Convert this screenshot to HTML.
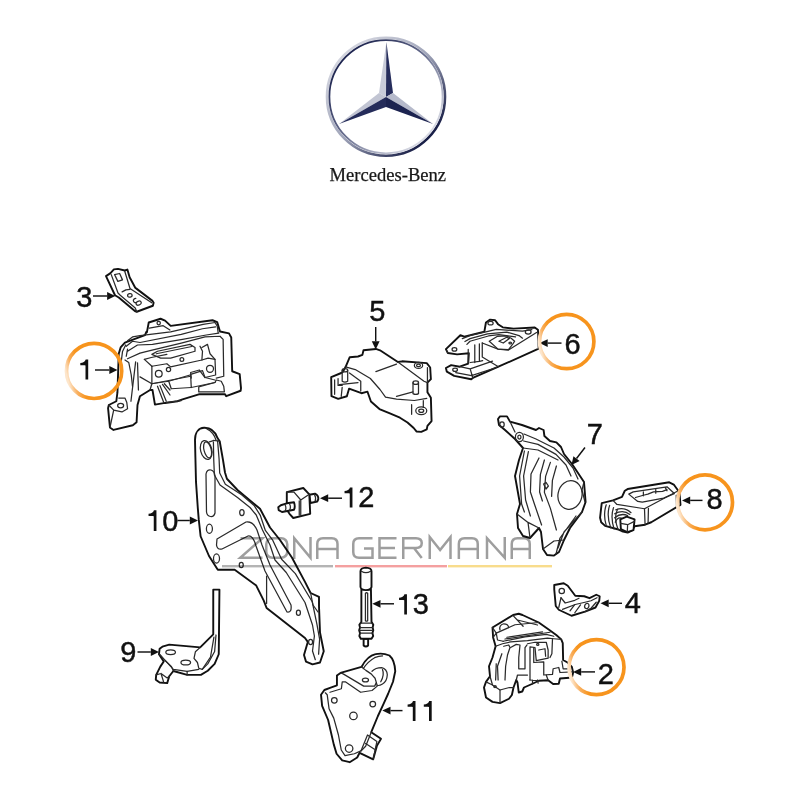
<!DOCTYPE html>
<html><head><meta charset="utf-8">
<style>
html,body{margin:0;padding:0;background:#fff;width:800px;height:800px;overflow:hidden}
svg{display:block}
.p path,.p circle,.p ellipse,.p line,.p polyline,.p polygon,.p rect{vector-effect:non-scaling-stroke}
.p{fill:none;stroke:#2a2a2a;stroke-width:1.25;stroke-linejoin:round;stroke-linecap:round}
.p .o{fill:#fff;stroke:#111;stroke-width:1.9}
.t{font-family:"Liberation Sans",sans-serif;font-size:29px;fill:#111;stroke:#111;stroke-width:0.45}
.ar{stroke:#111;stroke-width:1.1}
.ah{fill:#111}
.oc{fill:none;stroke:url(#og);stroke-width:3.7}
</style></head>
<body>
<svg width="800" height="800" viewBox="0 0 800 800">
<defs>
<linearGradient id="ring" x1="0" y1="0" x2="1" y2="1">
<stop offset="0" stop-color="#c9ccd6"/><stop offset="0.45" stop-color="#8a90a8"/><stop offset="1" stop-color="#1e2550"/>
</linearGradient>
<linearGradient id="og" x1="0" y1="0.56" x2="0.24" y2="0.5">
<stop offset="0" stop-color="#fde6cc"/><stop offset="0.45" stop-color="#f9b060"/><stop offset="1" stop-color="#f7941d"/>
</linearGradient>
<filter id="gray" x="0" y="0" width="1" height="1"><feColorMatrix type="saturate" values="0"/></filter>
</defs>
<!-- LOGO -->
<g id="logo">
<defs>
<linearGradient id="rgA" x1="0.15" y1="0.15" x2="0.85" y2="0.85"><stop offset="0" stop-color="#d2d4de"/><stop offset="0.5" stop-color="#9ea3b8"/><stop offset="1" stop-color="#1a2048"/></linearGradient>
<linearGradient id="rgB" x1="0.15" y1="0.15" x2="0.85" y2="0.85"><stop offset="0" stop-color="#1e2550"/><stop offset="0.5" stop-color="#6a7090"/><stop offset="1" stop-color="#d8dae4"/></linearGradient>
<linearGradient id="lf" x1="0" y1="0" x2="1" y2="1"><stop offset="0" stop-color="#f2f3f7"/><stop offset="1" stop-color="#a9adc0"/></linearGradient>
<linearGradient id="df" x1="0" y1="0" x2="1" y2="1"><stop offset="0" stop-color="#3a4170"/><stop offset="1" stop-color="#161c44"/></linearGradient>
</defs>
<circle cx="386" cy="96.7" r="59" fill="none" stroke="url(#rgA)" stroke-width="2.6"/>
<circle cx="386" cy="96.7" r="56.6" fill="none" stroke="url(#rgB)" stroke-width="1.8"/>
<polygon points="386.4,42 379,93 386,97" fill="#c9ccd9"/>
<polygon points="386.4,42 393,93 386,97" fill="#262d5c"/>
<polygon points="339,124 379,93 386,97" fill="#c2c5d3"/>
<polygon points="339,124 386,107 386,97" fill="#252c5a"/>
<polygon points="433,124 393,93 386,97" fill="#b6bacb"/>
<polygon points="433,124 386,107 386,97" fill="#1c2350"/>
<text x="329.6" y="181.3" font-family="Liberation Serif" font-size="19" fill="#161822" stroke="#161822" stroke-width="0.25" textLength="116.5" lengthAdjust="spacingAndGlyphs" filter="url(#gray)">Mercedes-Benz</text>
</g>

<!-- WATERMARK -->

<!-- PARTS -->
<g id="parts">
<!-- PART 1 (B coords) -->
<g class="p" transform="translate(100,300) scale(0.1875)">
<path class="o" d="M247,170 L240,187 L133,227 L110,253 L100,287 L93,493 L87,540 L47,560 L43,577 L53,680 L72,693 L175,668 L195,652 L200,560 L213,513 L267,480 L280,480 L293,558 L347,549 L413,540 L440,530 L527,503 L667,503 L673,513 L750,484 L752,470 L745,395 L705,380 L700,200 L688,178 L640,168 L625,118 L600,108 L377,138 L347,110 L323,100 L260,120 L250,173 Z"/>
<path d="M100,523 L133,523 L143,547 L147,580 L117,597 L73,587 L47,560"/>
<path d="M73,587 L53,680"/>
<ellipse cx="110" cy="563" rx="16" ry="12"/>
<path d="M263,150 L337,137 L373,160"/>
<circle cx="313" cy="123" r="9"/>
<path d="M137,240 L120,275 L113,330"/>
<path d="M147,262 L140,300"/>
<path d="M190,330 L165,540"/>
<path d="M200,335 L205,480"/>
</g>
<g class="p" transform="translate(140,310) scale(0.125)">
<path d="M-100,245 L-60,215 L0,205 L245,175 L505,115 L600,100 L618,130 L625,180"/>
<path d="M-110,290 L-60,250 L0,260 L330,195 L500,150 L605,135"/>
<path d="M-100,330 L-20,280 L100,275 L340,235 L530,200 L630,185"/>
<path d="M-100,390 L0,345 L80,325 L330,265 L520,215 L640,210 L665,235 L670,530 L610,545"/>
<path d="M-120,400 L-90,420 L-70,520 L-60,610"/>
<path d="M95,450 L215,430 L245,455 L495,400 L545,385 L600,395"/>
<path d="M95,450 L95,590 L405,530"/>
<path d="M35,395 L95,450"/>
<path d="M35,395 L90,380 L215,355"/>
<path d="M95,355 L140,330 L400,275 L440,300 L440,330 L245,385 L165,385 Z"/>
<path d="M130,350 L415,292"/>
<circle cx="150" cy="510" r="27"/>
<circle cx="228" cy="475" r="17"/>
<circle cx="335" cy="395" r="15"/>
<circle cx="560" cy="470" r="28"/>
<path d="M495,300 L540,275 L560,350 L600,395 L605,520 L520,540 L475,480 L405,500 L410,545"/>
<path d="M480,290 L500,330 L495,400"/>




<path d="M470,615 L600,580 L610,560 L650,570 L670,610 L675,655 L470,655 Z"/>
<path d="M405,515 L500,485 L520,540 L600,560 M405,515 L410,620 L600,580"/>
<path d="M90,590 L230,570 L400,520 M230,570 L250,630 L410,620"/>
<path d="M140,610 L190,740 M160,605 L210,730 M180,595 L240,680 M195,590 L240,640"/>
<path d="M0,535 L95,590 L80,640 M210,740 L330,725"/>
</g>

<g class="p" transform="translate(100,260) scale(0.075)">
<path class="o" d="M80,215 L140,175 L185,125 L240,118 L330,140 L365,128 L395,230 L470,370 L490,385 L700,545 L715,570 L705,610 L490,690 L465,680 L250,500 L200,470 Z"/>
<path d="M195,195 L262,180 L300,265 L238,285 Z"/>
<path d="M150,195 L240,440 L270,470 L470,640 L490,690"/>
<path d="M330,150 L400,380 L430,400 L690,570"/>
<path d="M295,425 L345,398 L400,392"/>
<ellipse cx="398" cy="472" rx="30" ry="24" transform="rotate(-15 398 472)"/>
<path d="M478,512 C430,515 435,575 485,568"/>
<ellipse cx="515" cy="575" rx="36" ry="26" transform="rotate(-20 515 575)"/>
</g>

<g class="p" transform="translate(325,340) scale(0.1375)">
<path class="o" d="M280,75 L370,65 L400,75 L530,160 L560,155 L740,168 L765,200 L770,285 L745,310 L745,380 L770,420 L775,590 L745,625 L740,650 L700,668 L665,665 L645,640 L600,600 L545,565 L472,534 L396,502 L334,447 L309,376 L265,387 L175,354 L159,409 L96,428 L47,409 L45,270 L118,240 L130,232 L150,195 L180,125 L240,120 L272,108 Z"/>
<path d="M150,195 L220,215 L330,280 L400,360 L440,415 L520,430 L650,440 L740,425"/>
<path d="M530,160 L720,300 L745,310"/>
<path d="M370,230 L520,175"/>
<path d="M640,310 L640,390 Q660,402 680,390 L680,310"/>
<ellipse cx="660" cy="310" rx="20" ry="12"/>
<path d="M520,410 L640,378"/>
<ellipse cx="680" cy="185" rx="30" ry="22"/>
<ellipse cx="680" cy="185" rx="14" ry="9"/>
<ellipse cx="700" cy="515" rx="40" ry="28"/>
<ellipse cx="700" cy="515" rx="18" ry="12"/>
<path d="M715,440 L715,490 M630,470 L630,540 M745,200 L745,300"/>
<path d="M125,220 L125,300 Q145,312 165,300 L165,220"/>
<ellipse cx="145" cy="220" rx="20" ry="12"/>
<path d="M70,290 L70,395 M95,280 L95,330 L125,330 M105,325 L240,310 M125,345 L118,410 M178,240 L260,300 L260,371"/>
</g>

<g class="p" transform="translate(440,310) scale(0.13125)">
<path class="o" d="M45,298 L155,192 L185,203 L338,165 L350,95 L382,73 L420,78 L442,108 L478,132 L560,142 L722,133 L746,150 L748,180 L752,295 L445,432 L250,518 L238,528 L108,502 L52,470 L45,442 L85,420 L150,432 L215,408 L220,330 L130,338 L60,328 Z"/>
<path d="M60,328 L50,310"/>








<path d="M215,300 L215,408 M265,265 L265,400 M300,258 L300,392"/>
<path d="M230,400 L300,392 L325,385"/>
<path d="M150,432 L230,448 L400,390 M230,448 L250,518 M120,478 L240,500 L430,438"/>
<ellipse cx="110" cy="300" rx="18" ry="13"/>
<ellipse cx="115" cy="455" rx="18" ry="13"/>
<ellipse cx="385" cy="100" rx="20" ry="14"/>

<path d="M170,218 L228.6,194.8 L342,168 L428.6,148 L628.6,161.4 L700,150"/>
<path d="M190,240 L228.6,218 L362,181.4 L508.6,168 L602,194.8 L628.6,214.8"/>
<path d="M205,262 L228.6,238 L368.6,198 L448.6,188 L575.3,204.8"/>
<path d="M375.3,238 L435.3,201.4 L508.6,198 L542,214.8 L568.6,238 L555.3,258 L522,301.4 L442,298 Z"/>
<path d="M448.6,238 L508.6,208 L528.6,218 L482,251.4 Z"/>
<ellipse cx="535" cy="251" rx="10" ry="7"/>
<ellipse cx="672" cy="168" rx="22" ry="16"/>
<path d="M322,251.4 L442,298 L522,304.8 L735.3,171.4"/>
<path d="M322,251.4 L322,358 L445,432"/>
</g>

<g class="p" transform="translate(470,400) scale(0.2)">
<path class="o" d="M140,95 L150,82 L185,82 L200,108 L260,125 L330,150 L345,140 L368,150 L372,180 L400,205 L432,212 L455,235 L470,270 L510,320 L570,410 L578,510 L560,560 L500,640 L470,700 L445,760 L420,778 L385,775 L365,745 L355,660 L345,640 L300,690 L265,680 L240,640 L235,570 L250,520 L225,380 L245,300 L265,240 L225,195 L175,150 L145,125 Z"/>
<ellipse cx="160" cy="122" rx="11" ry="13"/>
<ellipse cx="247" cy="185" rx="20" ry="23"/>
<ellipse cx="247" cy="185" rx="8" ry="10"/>
<path d="M200,108 L220,150 L225,160"/>
<path d="M270,170 L330,195 L420,240 L470,285 L515,340 L540,395"/>
<path d="M268,205 L340,222 L430,272 L480,325 L505,380"/>
<path d="M265,240 L340,250 L440,300"/>
<path d="M272,255 L248,380 L258,520 L272,560"/>
<path d="M292,258 L268,380 L278,500 L302,580"/>
<path d="M345,290 L305,370 L302,460 L322,520 L358,625"/>
<path d="M372,300 L352,372 L348,460 L362,505"/>
<path d="M402,312 L378,382 L372,462 L402,542 L432,650"/>
<path d="M432,330 L412,402 L408,482"/>
<path d="M368,420 L380,412 L392,430 L380,445 Z"/>
<ellipse cx="500" cy="475" rx="60" ry="72" transform="rotate(12 500 475)"/>
<path d="M235,570 L290,612 L345,640 M290,612 L300,690"/>
<path d="M560,560 L470,660 L440,740 M530,580 L450,690 L430,770"/>
<path d="M365,745 L420,705 L470,700"/>
<path d="M570,410 L560,450 L575,510"/>
</g>

<g class="p" transform="translate(595,475) scale(0.1125)">
<path class="o" d="M60,250 L160,225 L240,195 L265,140 L290,125 L660,65 L700,85 L740,140 L752,170 L760,265 L500,420 L445,442 L352,455 L330,492 L290,512 L240,500 L200,482 L90,452 L55,420 L45,380 L55,290 Z"/>
<path d="M300,170 L340,150 L640,105 L705,165 L610,205 L420,242 L380,235 Z"/>
<path d="M360,200 L430,180 L470,170 L520,150 L600,145 L640,130"/>
<path d="M430,150 L430,185 M540,128 L540,162 M625,112 L640,140"/>
<path d="M160,225 L195,262 L440,300 L740,140"/>
<path d="M440,300 L445,442 M475,296 L472,425"/>
<path d="M722,180 L725,285"/>
<path d="M100,265 Q70,350 100,450"/>
<path d="M130,270 Q100,360 140,470"/>
<path d="M165,290 Q135,370 170,480"/>
<path d="M200,305 Q165,380 205,485"/>
<path d="M185,310 Q260,280 320,335"/>
<path d="M175,345 Q250,305 310,350"/>
<path d="M175,380 Q230,335 290,360"/>
<path d="M180,420 Q200,370 240,385"/>
<path class="o" d="M225,395 L282,370 L352,395 L342,490 L287,507 L230,482 Z"/>
<path d="M228,430 L290,442 L350,412 M290,442 L287,507"/>
</g>

<g class="p">
<path class="o" d="M195.4,457.5 L195,440 C195,432 199,428 204,427.8 C210,427.6 215,431 217.5,438 L219.7,441.25 L223,460 L225,472.5 L226.9,478.75 L237.5,490 L260,508.75 L270,527.5 L280,540 L291.9,557.5 L305,581.9 L310.6,593 L319,596.9 L319,606.25 L320,632.5 L323.75,651.25 L320,662.5 L312.5,664.4 L306,661.6 L304,655 L307.8,641.9 L305,638 L266.6,608 L263.75,600.6 L256.25,585.6 L234.7,569.7 L217.8,569.7 L209,556 L200.6,536.25 L198.75,519.4 L197.8,508 L196,481.9 Z"/>
<path d="M213.4,442 L213.75,460 L214.4,475 L220,485 L237.5,497.5 L250,507.5 L256.25,515 L262.5,530 L270,545 L275,560 L286.25,572.5 L305,602.5 L312.5,625 L314.4,636 L312.5,651 L315.3,659.7"/>
<path d="M217.60,440.95 L219.10,459.20 L219.70,472.95 L225.35,484.20 L241.60,494.80 L254.10,505.45 L260.35,515.45 L265.35,530.45 L272.85,540.45 L281.60,559.20 L295.35,573.60 L312.20,601.70 L316.90,624.20 L319.60,639.20 L318.60,654.20"/>
<path d="M213.4,440.3 L219.7,441.25"/>
<ellipse cx="206.2" cy="450" rx="5.6" ry="9.6" transform="rotate(-14 206.2 450)"/>
<ellipse cx="207.6" cy="449.8" rx="3.6" ry="8.2" transform="rotate(-14 207.6 449.8)"/>
<path d="M206.9,428.9 Q213.5,432 216.2,440.5"/>
<path d="M209.4,441.9 L213.4,440.6"/>
<path d="M206,474 Q207,469 211,470 Q214.5,471 215,476 L215,513 Q214,517 210.5,516.5 Q207,516 206.5,512 Z"/>
<ellipse cx="241.9" cy="512.5" rx="2.2" ry="3"/>
<ellipse cx="209.4" cy="528.75" rx="3" ry="4.6"/>
<ellipse cx="216.5" cy="558.5" rx="3" ry="4.6"/>
<path d="M217,539 L246,522 Q253,521 257,530 L262,545 L270,565 L291,605 Q292,613 287,612 L265,571 L256,546 Q253,535 248,536 L222,549 Q217,550 216.5,545 Z"/>
<ellipse cx="241.25" cy="565" rx="2" ry="2.6"/>

<path d="M266.6,576 L266.6,603.4"/>
<path d="M310.6,593 L313,605 L318,612"/>
<ellipse cx="298.4" cy="612.8" rx="2" ry="2.6"/>
<ellipse cx="310.6" cy="641.9" rx="2" ry="2.6"/>
</g>

<g class="p" transform="translate(270,470) scale(0.15)">
<path class="o" d="M262,165 L300,158 Q325,170 322,195 L315,210 L270,220 Z"/>
<path d="M295,160 Q310,185 300,212"/>
<path class="o" d="M112,148 L222,120 L262,162 L268,292 L155,320 L130,292 L112,265 Z"/>
<path d="M112,148 L160,148 L205,200 L262,162 M205,200 L205,305"/>
<path d="M195,205 L195,300"/>
<path class="o" d="M112,222 L160,215 Q170,245 160,265 L80,280 L58,268 L55,248 L72,235 Z"/>
<path d="M100,232 Q112,252 100,275 M130,225 Q142,247 130,270"/>
</g>

<g class="p" transform="translate(150,580) scale(0.1375)">
<path class="o" d="M460,70 L505,70 L500,540 L470,610 L420,660 L370,690 L270,690 L170,662 L140,700 L125,750 L70,745 L42,725 L45,690 L75,630 L100,592 L65,540 L70,500 L90,485 L140,470 L365,490 L460,395 Z"/>
<path d="M365,490 L330,522 L320,570 L345,600 L355,642 L380,650 L440,560 L465,415"/>
<path d="M480,400 L470,520 L420,610 L380,650"/>
<path d="M70,540 L110,585 L170,650 L270,665 L355,650"/>
<path d="M110,585 L155,628 L170,662"/>
<path d="M45,690 L80,680 L125,712 L140,700 M80,680 L100,745"/>
<path d="M270,665 L270,690"/>
<ellipse cx="150" cy="525" rx="35" ry="17"/>
<ellipse cx="260" cy="600" rx="35" ry="18"/>
</g>

<g class="p" transform="translate(340,560) scale(0.1125)">
<path class="o" d="M210,700 L210,760 Q230,780 250,760 L250,700 Z"/>
<path class="o" d="M190,262 L190,550 L172,575 L178,600 L170,625 L178,650 L172,675 L185,700 L280,700 L295,675 L288,650 L296,625 L290,600 L296,575 L280,550 L275,262 Z"/>
<path d="M180,600 L290,600 M175,625 L292,625 M178,650 L290,650 M185,560 L285,560"/>
<path d="M226,295 L226,540 Q236,548 246,540 L246,295 Q236,287 226,295 Z"/>
<path class="o" d="M182,100 Q182,70 230,68 Q280,70 280,100 L280,240 Q275,265 230,268 Q185,265 182,240 Z"/>
<path d="M190,100 Q230,125 272,100"/>
</g>

<g class="p" transform="translate(300,630) scale(0.1875)">
<path class="o" d="M197,243 L216,229 L328,197 C345,165 375,135 403,129 Q440,120 477,136 Q505,160 508,220 L496,276 L470,340 L445,395 L415,460 L380,545 L432,580 L410,618 L390,690 L318,655 L305,680 L265,705 L225,695 L195,660 L180,610 L150,480 L118,405 L112,345 L130,320 L160,309 L197,295 Z"/>
<path d="M135,335 L145,345 L155,420 L180,470 L205,560 L220,640 L240,670 L290,660 L325,645 L350,620 L380,545"/>





<path d="M325,645 L360,560 L410,595 L390,690 M350,605 L395,635"/>

<ellipse cx="183" cy="375" rx="15" ry="15"/>
<ellipse cx="388" cy="395" rx="15" ry="15"/>
<ellipse cx="285" cy="458" rx="20" ry="20"/>
<ellipse cx="262" cy="632" rx="20" ry="20"/>
</g>
<g class="p" transform="translate(330,645) scale(0.0875)">
<path d="M380,270 Q430,190 510,145 Q560,125 600,125"/>
<path d="M480,300 Q520,258 590,258 Q650,270 655,340 Q650,420 600,445 Q560,470 540,460"/>
<path d="M600,280 Q625,340 580,420"/>
<path d="M120,320 L150,330 L385,470 L510,470 L530,430 L515,380 L470,330 L410,290 L360,250"/>
<ellipse cx="405" cy="400" rx="35" ry="22"/>
<path d="M0,540 L130,500 L140,420 L175,420 L350,540 L480,520 L540,470 L530,430"/>
</g>
<g class="p" transform="translate(540,570) scale(0.15)">
<path class="o" d="M95,100 L158,88 L185,105 L235,172 L295,175 L330,188 L375,165 L398,175 L395,205 L370,250 L300,278 L210,305 L125,265 L105,240 L95,130 Z"/>
<ellipse cx="145" cy="140" rx="18" ry="18"/>
<path d="M140,185 L125,250"/>
<path d="M140,185 L168,220 L232,202 L260,188"/>
<path d="M150,262 L235,230 L300,215 L340,205 L380,185"/>
<path d="M200,272 L230,232 M232,285 L270,232"/>
<ellipse cx="312" cy="240" rx="14" ry="18" transform="rotate(20 312 240)"/>
<path d="M300,278 L340,255 L375,215"/>
</g>

<g class="p" transform="translate(480,610) scale(0.125)">
<path class="o" d="M100,140 L265,40 L310,30 L340,40 L470,100 L555,160 L610,200 L650,235 L662,265 L665,400 L700,420 L735,455 L745,500 L738,530 L715,542 L640,548 L630,590 L585,592 L545,562 L470,566 L420,590 L352,620 L338,652 L310,660 L300,580 L290,560 L268,620 L255,680 L232,710 L160,745 L100,735 L48,700 L32,620 L48,575 L80,530 L72,450 L100,380 L125,290 L105,220 Z"/>
<path d="M100,140 L130,185 L280,118 L470,100"/>
<path d="M130,185 L105,220 M130,185 L140,240 L185,250"/>
<path d="M185,250 L360,215 L530,195 L590,210"/>
<path d="M200,232 L560,178"/>
<path d="M215,218 L500,175"/>
<path d="M265,45 L345,130 M300,80 L460,120"/>
<path d="M160,160 Q150,120 190,110 Q225,110 230,140"/>
<path d="M125,290 L180,270 L245,255 L380,245 L540,225 L590,230 L650,235"/>
<path d="M80,530 L100,600 L160,640 L235,620 L268,620"/>
<path d="M48,575 L100,600"/>
<path d="M160,640 L160,745"/>
<ellipse cx="120" cy="612" rx="10" ry="8"/>
<path d="M130,430 L125,560 M175,350 L140,450 L145,560 M190,290 L230,280 L240,300 L220,360 L205,450 L200,560"/>
<path d="M245,300 L290,275 L320,280 L310,380 L310,470 L360,470 L360,300 L375,280"/>
<path d="M380,270 L440,258 L530,258 L545,320 L545,385 L450,405 L440,300 L400,295 L400,560"/>
<path d="M470,320 L520,310 L525,370 M430,300 L430,420 L510,415 L510,520 L580,515 L585,470 L630,460 L640,500 L740,495"/>
<path d="M580,230 L575,350 L560,380 M655,410 L665,470 L700,470"/>
<path d="M400,560 L470,566 M420,560 L420,590 M460,560 L465,585"/>
<path d="M530,520 L545,562"/>
<ellipse cx="462" cy="275" rx="9" ry="8"/>
<path d="M290,560 L300,520 L380,520"/>
</g>

<g id="wmtext" fill="none" stroke="#9e9e9e" stroke-width="2.5" stroke-linejoin="miter" style="mix-blend-mode:multiply">
<path d="M240.5,538.25 H262.5 L240.25,557.75 H262.5"/>
<rect x="266.25" y="538.25" width="21" height="19.5" rx="6" ry="6"/>
<path d="M294.25,559 V538.25 L310.5,557.75 V537"/>
<path d="M317.25,559 V544 Q317.25,538.25 323,538.25 H331.75 Q337.5,538.25 337.5,544 V559 M317.25,549 H337.5"/>
<path d="M372.5,538.25 H359 Q353.25,538.25 353.25,544 V552 Q353.25,557.75 359,557.75 H372.5 V548.5 H364"/>
<path d="M396.5,538.25 H379.5 V557.75 H396.5 M379.5,548 H395"/>
<path d="M403.25,559 V538.25 H416 Q421.75,538.25 421.75,543 Q421.75,548 416,548 H403.25 M414,548 L421.75,558"/>
<path d="M429.75,559 V537 L440.1,550 L450.5,537 V559"/>
<path d="M458.85,559 V544 Q458.85,538.25 464.6,538.25 H472 Q477.75,538.25 477.75,544 V559 M458.85,549 H477.75"/>
<path d="M487,559 V538.25 L504.75,557.75 V537"/>
<path d="M511.75,559 V544 Q511.75,538.25 517.5,538.25 H524 Q529.75,538.25 529.75,544 V559 M511.75,549 H529.75"/>
</g>

<g id="wmbars" style="mix-blend-mode:multiply">
<rect x="222" y="565" width="111" height="2.4" fill="#b4b4b4"/>
<rect x="335" y="565" width="112" height="2.4" fill="#f4a0a0"/>
<rect x="448" y="565" width="104" height="2.4" fill="#f8dc8c"/>
</g>
<g id="arrows">
<line x1="93" y1="296" x2="107.10" y2="296.00" stroke="#111" stroke-width="1.45"/><polygon points="115.3,296 107.10,299.90 107.10,292.10" fill="#111"/>
<line x1="95" y1="370" x2="109.30" y2="370.00" stroke="#111" stroke-width="1.45"/><polygon points="117.5,370 109.30,373.90 109.30,366.10" fill="#111"/>
<line x1="375.7" y1="327" x2="375.70" y2="341.30" stroke="#111" stroke-width="1.45"/><polygon points="375.7,349.5 371.80,341.30 379.60,341.30" fill="#111"/>
<line x1="561.5" y1="343.1" x2="547.70" y2="343.10" stroke="#111" stroke-width="1.45"/><polygon points="539.5,343.1 547.70,339.20 547.70,347.00" fill="#111"/>
<line x1="585" y1="447.5" x2="576.51" y2="458.51" stroke="#111" stroke-width="1.45"/><polygon points="571.5,465 573.42,456.13 579.60,460.89" fill="#111"/>
<line x1="702.5" y1="500.4" x2="690.20" y2="500.40" stroke="#111" stroke-width="1.45"/><polygon points="682,500.4 690.20,496.50 690.20,504.30" fill="#111"/>
<line x1="342" y1="498.2" x2="328.20" y2="498.20" stroke="#111" stroke-width="1.45"/><polygon points="320,498.2 328.20,494.30 328.20,502.10" fill="#111"/>
<line x1="177.5" y1="520.5" x2="189.80" y2="520.50" stroke="#111" stroke-width="1.45"/><polygon points="198,520.5 189.80,524.40 189.80,516.60" fill="#111"/>
<line x1="137.5" y1="652" x2="150.80" y2="652.00" stroke="#111" stroke-width="1.45"/><polygon points="159,652 150.80,655.90 150.80,648.10" fill="#111"/>
<line x1="394" y1="603.8" x2="380.50" y2="603.80" stroke="#111" stroke-width="1.45"/><polygon points="372.3,603.8 380.50,599.90 380.50,607.70" fill="#111"/>
<line x1="402.5" y1="710.6" x2="390.50" y2="710.60" stroke="#111" stroke-width="1.45"/><polygon points="382.3,710.6 390.50,706.70 390.50,714.50" fill="#111"/>
<line x1="622" y1="603.3" x2="608.70" y2="603.30" stroke="#111" stroke-width="1.45"/><polygon points="600.5,603.3 608.70,599.40 608.70,607.20" fill="#111"/>
<line x1="595" y1="671.9" x2="581.20" y2="671.90" stroke="#111" stroke-width="1.45"/><polygon points="573,671.9 581.20,668.00 581.20,675.80" fill="#111"/>
</g>
</g><!--END-->

<!-- ORANGE CIRCLES -->
<circle class="oc" cx="94.1" cy="370.9" r="27.6"/>
<circle class="oc" cx="566.7" cy="341.5" r="27.2"/>
<circle class="oc" cx="705" cy="502.3" r="27.5"/>
<circle class="oc" cx="596.5" cy="667.2" r="27.5"/>

<!-- LABELS -->
<g id="labels" filter="url(#gray)">
<path d="M88.20,359.5 L88.20,379.5 L85.50,379.5 L85.50,365.50 C84.30,365.10 82.30,365.30 80.30,365.30 L80.30,363.00 C83.00,362.90 85.10,361.70 85.70,359.5 Z" fill="#111"/>
<path d="M156.45,510.25 L156.45,531 L153.75,531 L153.75,516.25 C152.55,515.85 150.55,516.05 148.55,516.05 L148.55,513.75 C151.25,513.65 153.35,512.45 153.95,510.25 Z" fill="#111"/>
<path d="M415.50,700.9 L415.50,720.9 L412.80,720.9 L412.80,706.90 C411.60,706.50 409.60,706.70 407.60,706.70 L407.60,704.40 C410.30,704.30 412.40,703.10 413.00,700.9 Z" fill="#111"/>
<path d="M431.70,700.9 L431.70,720.9 L429.00,720.9 L429.00,706.90 C427.80,706.50 425.80,706.70 423.80,706.70 L423.80,704.40 C426.50,704.30 428.60,703.10 429.20,700.9 Z" fill="#111"/>
<path d="M352.45,487.5 L352.45,507.5 L349.75,507.5 L349.75,493.50 C348.55,493.10 346.55,493.30 344.55,493.30 L344.55,491.00 C347.25,490.90 349.35,489.70 349.95,487.5 Z" fill="#111"/>
<path d="M406.95,594.25 L406.95,614.5 L404.25,614.5 L404.25,600.25 C403.05,599.85 401.05,600.05 399.05,600.05 L399.05,597.75 C401.75,597.65 403.85,596.45 404.45,594.25 Z" fill="#111"/>
<text class="t" id="L0" x="76.20" y="307.30">3</text>
<text class="t" id="L1" x="369.28" y="321.45">5</text>
<text class="t" id="L2" x="564.50" y="354.45">6</text>
<text class="t" id="L3" x="586.65" y="444.20">7</text>
<text class="t" id="L4" x="706.40" y="509.45">8</text>
<text class="t" id="L5" x="162.15" y="530.50">0</text>
<text class="t" id="L6" x="358.25" y="507.00">2</text>
<text class="t" id="L7" x="412.75" y="614.25">3</text>
<text class="t" id="L8" x="120.35" y="662.00">9</text>
<text class="t" id="L9" x="624.75" y="612.90">4</text>
<text class="t" id="L10" x="597.80" y="683.70">2</text>
</g>
</svg>
</body></html>
